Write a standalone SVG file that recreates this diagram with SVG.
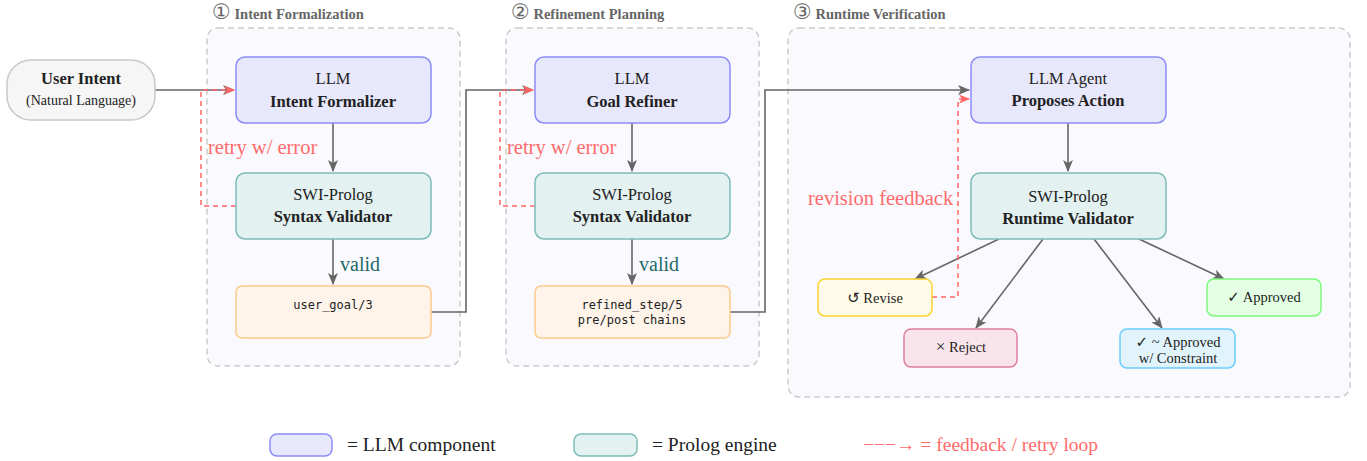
<svg xmlns="http://www.w3.org/2000/svg" width="1367" height="461" viewBox="0 0 1367 461">
  <style>
    text { font-family: "Liberation Serif", "DejaVu Serif", serif; fill: #222; }
    .stage { fill: #f9f9fe; stroke: #cccccc; stroke-width: 1.5; stroke-dasharray: 6 4; }
    .title { font-size: 14.5px; font-weight: bold; fill: #666; }
    .num { font-family: "DejaVu Sans", "Noto Sans CJK JP", sans-serif; font-size: 21px; font-weight: normal; fill: #666; }
    .llm { fill: #e8e8fc; stroke: #8c8cf8; stroke-width: 1.5; }
    .prolog { fill: #e3f1f0; stroke: #7dbcb8; stroke-width: 1.5; }
    .out { fill: #fff4e9; stroke: #fdc98e; stroke-width: 1.5; }
    .t { font-size: 16.5px; text-anchor: middle; }
    .b { font-size: 16.5px; font-weight: bold; text-anchor: middle; }
    .mono { font-family: "DejaVu Sans Mono", "Liberation Mono", monospace; font-size: 12px; text-anchor: middle; }
    .small { font-size: 14.5px; text-anchor: middle; }
    .sym { font-family: "DejaVu Sans", sans-serif; font-size: 15px; }
    .edge { fill: none; stroke: #666; stroke-width: 1.6; }
    .fb { fill: none; stroke: #ff6666; stroke-width: 1.5; stroke-dasharray: 5 4; }
    .red { fill: #ff6b6b; font-size: 20.5px; }
    .teal { fill: #226a6a; font-size: 20px; }
    .leg { font-size: 19.5px; }
  </style>
  <defs>
    <marker id="arr" viewBox="0 0 12 10" refX="11" refY="5" markerWidth="12" markerHeight="10" markerUnits="userSpaceOnUse" orient="auto">
      <path d="M0,0 L12,5 L0,10 L3,5 z" fill="#666"/>
    </marker>
    <marker id="arrRed" viewBox="0 0 12 10" refX="11" refY="5" markerWidth="11" markerHeight="9" markerUnits="userSpaceOnUse" orient="auto">
      <path d="M0,0 L12,5 L0,10 L3,5 z" fill="#ff6666"/>
    </marker>
  </defs>

  <!-- stage frames -->
  <g id="stage1">
    <rect class="stage" x="207" y="28" width="253" height="338" rx="11"/>
    <text x="212" y="19" class="title"><tspan class="num">①</tspan> Intent Formalization</text>
  </g>
  <g id="stage2">
    <rect class="stage" x="506" y="28" width="253" height="338" rx="11"/>
    <text x="511" y="19" class="title"><tspan class="num">②</tspan> Refinement Planning</text>
  </g>
  <g id="stage3">
    <rect class="stage" x="788" y="28" width="562" height="369" rx="11"/>
    <text x="793" y="19" class="title"><tspan class="num">③</tspan> Runtime Verification</text>
  </g>

  <!-- connectors -->
  <g id="connectors">
    <path class="edge" d="M155,90 H234" marker-end="url(#arr)"/>
    <path class="edge" d="M333,123 V171" marker-end="url(#arr)"/>
    <path class="edge" d="M333,239 V284" marker-end="url(#arr)"/>
    <path class="edge" d="M431,312 H466 V90 H533" marker-end="url(#arr)"/>
    <path class="edge" d="M632,123 V171" marker-end="url(#arr)"/>
    <path class="edge" d="M632,239 V284" marker-end="url(#arr)"/>
    <path class="edge" d="M730,312 H765 V90 H969" marker-end="url(#arr)"/>
    <path class="edge" d="M1068,123 V171" marker-end="url(#arr)"/>
    <path class="edge" d="M999,239 L915,279" marker-end="url(#arr)"/>
    <path class="edge" d="M1043,239 L976,328" marker-end="url(#arr)"/>
    <path class="edge" d="M1094,239 L1162,328" marker-end="url(#arr)"/>
    <path class="edge" d="M1139,239 L1224,279" marker-end="url(#arr)"/>
    <!-- feedback loops -->
    <path class="fb" d="M236,206 H201 V90 H234" marker-end="url(#arrRed)"/>
    <path class="fb" d="M535,206 H500 V90 H533" marker-end="url(#arrRed)"/>
    <path class="fb" d="M932,297 H958 V99 H969" marker-end="url(#arrRed)"/>
    <text x="208" y="154" class="red">retry w/ error</text>
    <text x="507" y="154" class="red">retry w/ error</text>
    <text x="808" y="205" class="red">revision feedback</text>
    <text x="340" y="271" class="teal">valid</text>
    <text x="639" y="271" class="teal">valid</text>
  </g>

  <!-- nodes -->
  <g id="user-intent">
    <rect x="7" y="60" width="148" height="60" rx="24" fill="#f6f6f6" stroke="#c8c8c8" stroke-width="1.5"/>
    <text x="81" y="84" class="b">User Intent</text>
    <text x="81" y="105" class="small" style="font-size:14px">(Natural Language)</text>
  </g>

  <g id="intent-formalizer">
    <rect class="llm" x="236" y="57" width="195" height="66" rx="9"/>
    <text x="333" y="84" class="t">LLM</text>
    <text x="333" y="107" class="b">Intent Formalizer</text>
  </g>
  <g id="syntax-validator-1">
    <rect class="prolog" x="236" y="173" width="195" height="66" rx="9"/>
    <text x="333" y="200" class="t">SWI-Prolog</text>
    <text x="333" y="222" class="b">Syntax Validator</text>
  </g>
  <g id="user-goal">
    <rect class="out" x="236" y="286" width="195" height="52" rx="6"/>
    <text x="333" y="309" class="mono">user_goal/3</text>
  </g>

  <g id="goal-refiner">
    <rect class="llm" x="535" y="57" width="195" height="66" rx="9"/>
    <text x="632" y="84" class="t">LLM</text>
    <text x="632" y="107" class="b">Goal Refiner</text>
  </g>
  <g id="syntax-validator-2">
    <rect class="prolog" x="535" y="173" width="195" height="66" rx="9"/>
    <text x="632" y="200" class="t">SWI-Prolog</text>
    <text x="632" y="222" class="b">Syntax Validator</text>
  </g>
  <g id="refined-step">
    <rect class="out" x="535" y="286" width="195" height="52" rx="6"/>
    <text x="632" y="309" class="mono">refined_step/5</text>
    <text x="632" y="324" class="mono">pre/post chains</text>
  </g>

  <g id="llm-agent">
    <rect class="llm" x="971" y="57" width="195" height="66" rx="9"/>
    <text x="1068" y="84" class="t">LLM Agent</text>
    <text x="1068" y="106" class="b">Proposes Action</text>
  </g>
  <g id="runtime-validator">
    <rect class="prolog" x="971" y="173" width="195" height="66" rx="9"/>
    <text x="1068" y="202" class="t">SWI-Prolog</text>
    <text x="1068" y="224" class="b">Runtime Validator</text>
  </g>

  <g id="revise">
    <rect x="818" y="279" width="114" height="37" rx="7" fill="#fffbe8" stroke="#fdd22c" stroke-width="1.5"/>
    <text x="875" y="303" class="small"><tspan class="sym">↺</tspan> Revise</text>
  </g>
  <g id="reject">
    <rect x="904" y="329" width="113" height="38" rx="7" fill="#f9e4eb" stroke="#de7f9d" stroke-width="1.5"/>
    <text x="961" y="352" class="small"><tspan style="font-size:17px">×</tspan> Reject</text>
  </g>
  <g id="approved-constraint">
    <rect x="1120" y="329" width="115" height="39" rx="7" fill="#e1f4fc" stroke="#6cccfa" stroke-width="1.5"/>
    <text x="1178" y="347" class="small"><tspan class="sym">✓</tspan> ~ Approved</text>
    <text x="1178" y="363" class="small">w/ Constraint</text>
  </g>
  <g id="approved">
    <rect x="1207" y="279" width="114" height="37" rx="7" fill="#e4ffe4" stroke="#7df87d" stroke-width="1.5"/>
    <text x="1264" y="302" class="small"><tspan class="sym">✓</tspan> Approved</text>
  </g>

  <!-- legend -->
  <g id="legend">
    <rect class="llm" x="270" y="434" width="62" height="22" rx="7"/>
    <text x="347" y="451" class="leg">= LLM component</text>
    <rect class="prolog" x="574" y="434" width="63" height="22" rx="7"/>
    <text x="652" y="451" class="leg">= Prolog engine</text>
    <text x="863" y="451" class="red leg">−−−→ = feedback / retry loop</text>
  </g>
</svg>
